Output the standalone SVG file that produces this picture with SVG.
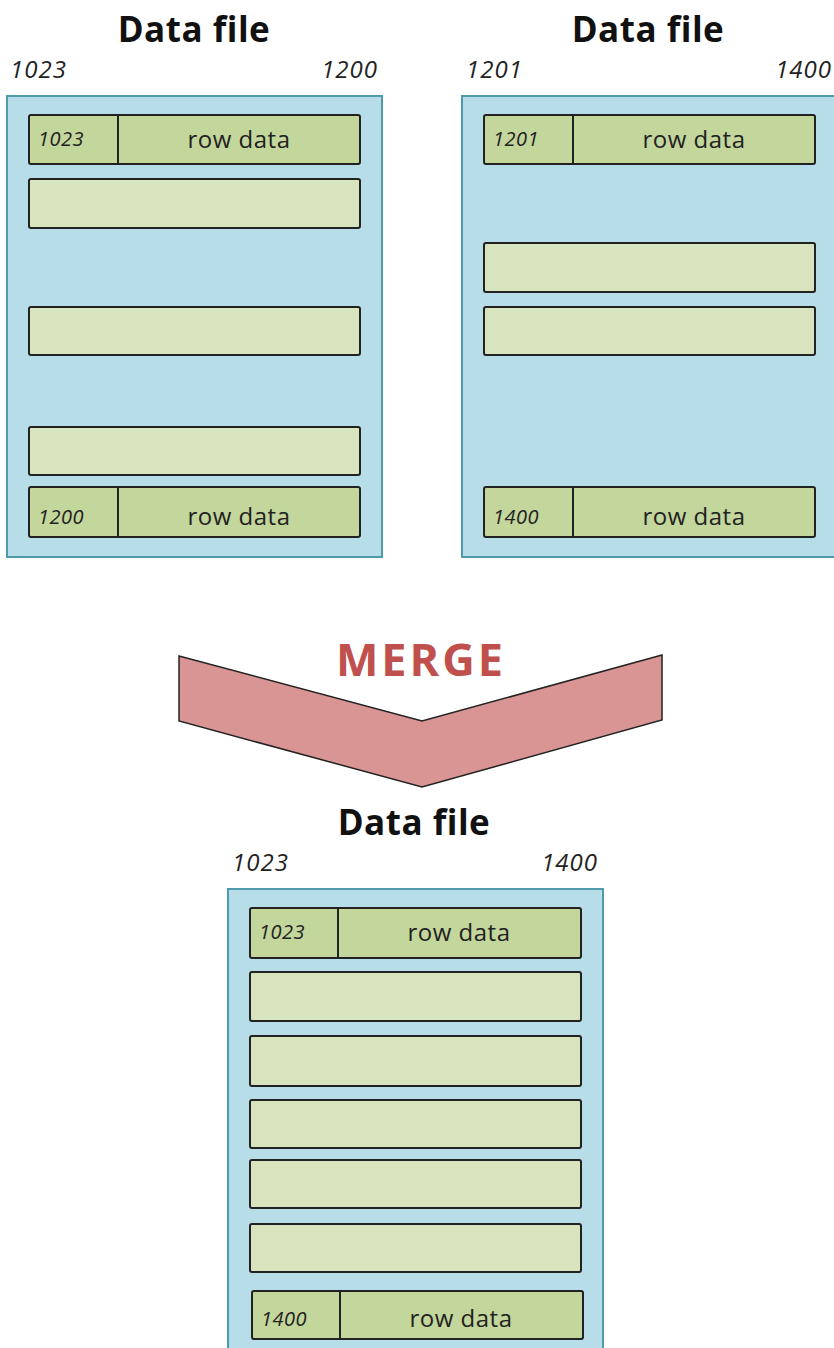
<svg xmlns="http://www.w3.org/2000/svg" width="834" height="1348" viewBox="0 0 834 1348">
<style>
.file{fill:#b7dde8;stroke:#4f9bab;stroke-width:2}
.row{fill:#d7e4bd;stroke:#222;stroke-width:2}
.key{fill:#c3d69b;stroke:#222;stroke-width:2}
.title{font-family:"Open Sans","Liberation Sans",sans-serif;font-weight:bold;font-size:35px;fill:#111;text-anchor:middle;letter-spacing:0.5px}
.range{font-family:"Open Sans","Liberation Sans",sans-serif;font-style:italic;font-size:24px;fill:#222;letter-spacing:1px}
.id{font-family:"Open Sans","Liberation Sans",sans-serif;font-style:italic;font-size:20px;fill:#222;letter-spacing:0.5px}
.rd{font-family:"Open Sans","Liberation Sans",sans-serif;font-size:24px;fill:#222;text-anchor:middle;letter-spacing:0.5px}
</style>
<g id="file-left">
<text class="title" x="194" y="42">Data file</text>
<text class="range" x="10" y="78">1023</text>
<text class="range" x="378" y="78" text-anchor="end">1200</text>
<rect class="file" x="7" y="96" width="375" height="461"/>
<rect class="key" x="29" y="115" width="331" height="49" rx="2"/>
<line x1="118" y1="115" x2="118" y2="164" stroke="#222" stroke-width="2"/>
<text class="id" x="38" y="146">1023</text>
<text class="rd" x="239" y="148">row data</text>
<rect class="row" x="29" y="179" width="331" height="49" rx="2"/>
<rect class="row" x="29" y="307" width="331" height="48" rx="2"/>
<rect class="row" x="29" y="427" width="331" height="48" rx="2"/>
<rect class="key" x="29" y="487" width="331" height="50" rx="2"/>
<line x1="118" y1="487" x2="118" y2="537" stroke="#222" stroke-width="2"/>
<text class="id" x="38" y="524">1200</text>
<text class="rd" x="239" y="525">row data</text>
</g>
<g id="file-right">
<text class="title" x="648" y="42">Data file</text>
<text class="range" x="466" y="78">1201</text>
<text class="range" x="832" y="78" text-anchor="end">1400</text>
<rect class="file" x="462" y="96" width="380" height="461"/>
<rect class="key" x="484" y="115" width="331" height="49" rx="2"/>
<line x1="573" y1="115" x2="573" y2="164" stroke="#222" stroke-width="2"/>
<text class="id" x="493" y="146">1201</text>
<text class="rd" x="694" y="148">row data</text>
<rect class="row" x="484" y="243" width="331" height="49" rx="2"/>
<rect class="row" x="484" y="307" width="331" height="48" rx="2"/>
<rect class="key" x="484" y="487" width="331" height="50" rx="2"/>
<line x1="573" y1="487" x2="573" y2="537" stroke="#222" stroke-width="2"/>
<text class="id" x="493" y="524">1400</text>
<text class="rd" x="694" y="525">row data</text>
</g>
<g id="merge">
<polygon points="179,656 422,721 662,655 662,720 422,787 179,721" fill="#d99594" stroke="#222" stroke-width="1.5" stroke-linejoin="miter"/>
<text x="421" y="676" font-family="'Open Sans','Liberation Sans',sans-serif" font-weight="bold" font-size="45" fill="#c0504d" text-anchor="middle" letter-spacing="3">MERGE</text>
</g>
<g id="file-merged">
<text class="title" x="414" y="835">Data file</text>
<text class="range" x="232" y="871">1023</text>
<text class="range" x="598" y="871" text-anchor="end">1400</text>
<rect class="file" x="228" y="889" width="375" height="470"/>
<rect class="key" x="250" y="908" width="331" height="50" rx="2"/>
<line x1="338" y1="908" x2="338" y2="958" stroke="#222" stroke-width="2"/>
<text class="id" x="259" y="939">1023</text>
<text class="rd" x="459" y="941">row data</text>
<rect class="row" x="250" y="972" width="331" height="49" rx="2"/>
<rect class="row" x="250" y="1036" width="331" height="50" rx="2"/>
<rect class="row" x="250" y="1100" width="331" height="48" rx="2"/>
<rect class="row" x="250" y="1160" width="331" height="48" rx="2"/>
<rect class="row" x="250" y="1224" width="331" height="48" rx="2"/>
<rect class="key" x="252" y="1291" width="331" height="48" rx="2"/>
<line x1="340" y1="1291" x2="340" y2="1339" stroke="#222" stroke-width="2"/>
<text class="id" x="261" y="1326">1400</text>
<text class="rd" x="461" y="1327">row data</text>
</g>
</svg>
